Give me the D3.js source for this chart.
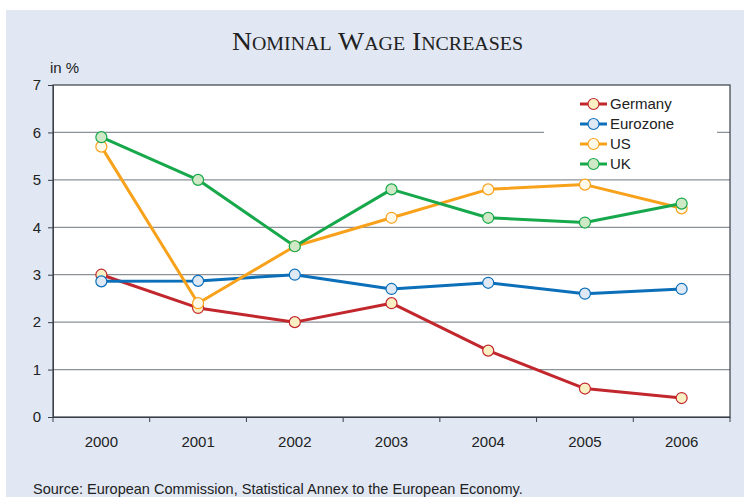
<!DOCTYPE html>
<html><head><meta charset="utf-8">
<script src="https://cdn.jsdelivr.net/npm/d3@7"></script>
<style>body{margin:0;background:#fff}svg{display:block}</style>
</head><body>
<svg id="c" width="744" height="497"></svg>
<script>
const years = ["2000","2001","2002","2003","2004","2005","2006"];
const germany = [3.0, 2.3, 2.0, 2.4, 1.4, 0.6, 0.4];
const eurozone = [2.86, 2.87, 3.0, 2.7, 2.83, 2.6, 2.7];
const us = [5.7, 2.4, 3.6, 4.2, 4.8, 4.9, 4.4];
const uk = [5.9, 5.0, 3.6, 4.8, 4.2, 4.1, 4.5];
const yTicks = [0,1,2,3,4,5,6,7];
const seriesNames = ["Germany","Eurozone","US","UK"];
const seriesValues = [germany, eurozone, us, uk];
const lineColors = ["#c1272d","#0b6fba","#f8a21c","#17a84b"];
const fillColors = ["#fbf0c4","#dfe9f6","#fff9ea","#cfe8c6"];
const drawOrder = [0,1,2,3];

const svg = d3.select("#c");
svg.append("rect").attr("x",6).attr("y",10).attr("width",738).attr("height",487).attr("fill","#e1e8f4");

const L=53, R=730, T=85, B=417;
const x = d3.scaleBand().domain(years).range([L,R]);
const y = d3.scaleLinear().domain([0,7]).range([B,T]);

svg.append("rect").attr("x",L).attr("y",T).attr("width",R-L).attr("height",B-T).attr("fill","#fff");

// gridlines
svg.append("g").selectAll("line").data(yTicks.filter(d=>d>0&&d<7)).join("line")
  .attr("x1",L).attr("x2",R).attr("y1",d=>y(d)).attr("y2",d=>y(d))
  .attr("stroke","#8c9198").attr("stroke-width",1.3);

// legend background (covers gridlines)
const lg = svg.append("g");
lg.append("rect").attr("x",544).attr("y",T+1).attr("width",173).attr("height",92).attr("fill","#fff");

// frame
svg.append("rect").attr("x",L).attr("y",T).attr("width",R-L).attr("height",B-T)
  .attr("fill","none").attr("stroke","#3a3f47").attr("stroke-width",1.2);

const sans = "Arial, 'Liberation Sans', sans-serif";
// axes
const yAxis = d3.axisLeft(y).tickValues(yTicks).tickSize(5).tickPadding(7).tickFormat(d3.format("d"));
const gy = svg.append("g").attr("transform",`translate(${L},0)`).call(yAxis);
gy.select(".domain").attr("stroke","#3a3f47");
gy.selectAll(".tick line").attr("stroke","#3a3f47");
gy.selectAll("text").attr("font-family",sans).attr("font-size",15).attr("fill","#222");

const xAxis = d3.axisBottom(x).tickSize(0).tickPadding(19);
const gx = svg.append("g").attr("transform",`translate(0,${B})`).call(xAxis);
gx.select(".domain").attr("stroke","#3a3f47");
gx.selectAll("text").attr("font-family",sans).attr("font-size",15).attr("fill","#222");
// boundary ticks between categories
const bounds = years.map(d=>x(d)).concat([R]);
svg.append("g").selectAll("line").data(bounds).join("line")
  .attr("x1",d=>d).attr("x2",d=>d).attr("y1",B).attr("y2",B+5)
  .attr("stroke","#3a3f47").attr("stroke-width",1);

// lines
const line = d3.line().x((d,i)=>x(years[i])+x.bandwidth()/2).y(d=>y(d));
drawOrder.forEach(si=>{
  svg.append("path").datum(seriesValues[si]).attr("d",line)
    .attr("fill","none").attr("stroke",lineColors[si]).attr("stroke-width",3).attr("stroke-linejoin","round");
});
drawOrder.forEach(si=>{
  svg.append("g").selectAll("circle").data(seriesValues[si]).join("circle")
    .attr("cx",(d,i)=>x(years[i])+x.bandwidth()/2).attr("cy",d=>y(d)).attr("r",5.5)
    .attr("fill",fillColors[si]).attr("stroke",lineColors[si]).attr("stroke-width",1.2);
});

// legend
seriesNames.forEach((n,i)=>{
  const ly = 104 + i*20;
  lg.append("line").attr("x1",580).attr("x2",607).attr("y1",ly).attr("y2",ly)
    .attr("stroke",lineColors[i]).attr("stroke-width",3);
  lg.append("circle").attr("cx",593.5).attr("cy",ly).attr("r",5.5)
    .attr("fill",fillColors[i]).attr("stroke",lineColors[i]).attr("stroke-width",1.2);
  lg.append("text").attr("x",610).attr("y",ly+5).text(n)
    .attr("font-family",sans).attr("font-size",15).attr("fill","#222");
});

// title
svg.append("text").attr("x",232).attr("y",49.5)
  .attr("font-family","'Liberation Serif', 'Times New Roman', serif").attr("font-size",25)
  .attr("font-variant","small-caps").attr("fill","#222")
  .attr("textLength",291).attr("lengthAdjust","spacingAndGlyphs")
  .text("Nominal Wage Increases");

svg.append("text").attr("x",50).attr("y",73).text("in %")
  .attr("font-family",sans).attr("font-size",15).attr("fill","#222");

svg.append("text").attr("x",33).attr("y",494).text("Source: European Commission, Statistical Annex to the European Economy.")
  .attr("font-family",sans).attr("font-size",14.5).attr("fill","#222");
</script>
</body></html>
